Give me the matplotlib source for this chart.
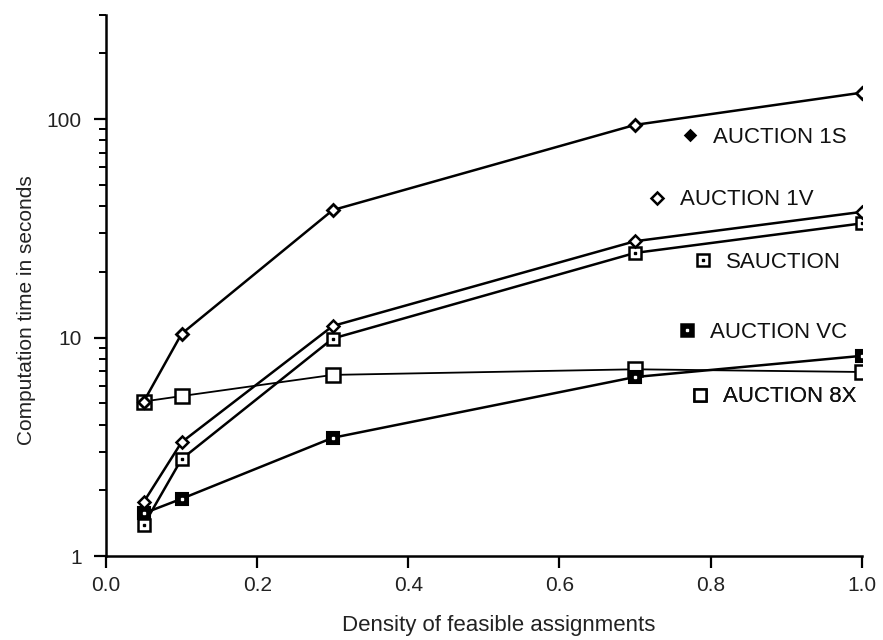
import numpy as np
import matplotlib
matplotlib.use('Agg')
import matplotlib.pyplot as plt
from matplotlib.lines import Line2D
from matplotlib.legend_handler import HandlerTuple
from matplotlib.ticker import LogLocator, FixedLocator, NullFormatter

plt.rcParams['font.family'] = ['Liberation Sans', 'DejaVu Sans']

# density of feasible assignments
density = [0.05, 0.1, 0.3, 0.7, 1.0]

# computation time in seconds
auction_1s = [5.1, 10.4, 38.3, 94, 132]
auction_1v = [1.77, 3.32, 11.3, 27.6, 37.6]
sauction = [1.39, 2.78, 9.9, 24.4, 33.3]
auction_vc = [1.57, 1.83, 3.48, 6.6, 8.25]
auction_8x = [5.1, 5.4, 6.75, 7.16, 6.96]

xticks = [0.0, 0.2, 0.4, 0.6, 0.8, 1.0]
xticklabels = ['0.0', '0.2', '0.4', '0.6', '0.8', '1.0']
yticks = [1, 10, 100]
yticklabels = ['1', '10', '100']

fig = plt.figure(figsize=(8.83, 6.4), dpi=100)
ax = fig.add_axes([0.120, 0.131, 0.856, 0.846])

lw = 1.8
ax.plot(density, auction_8x, color='black', lw=1.3, marker='s', ms=10.5,
        mfc='white', mec='black', mew=1.8, zorder=2)
ax.plot(density, auction_vc, color='black', lw=lw, marker='s', ms=9,
        mfc='black', mec='black', mew=1.5, zorder=3)
ax.plot(density, auction_vc, ls='none', marker='s', ms=1.5,
        mfc='white', mec='white', zorder=3)
ax.plot(density, sauction, color='black', lw=lw, marker='s', ms=9,
        mfc='white', mec='black', mew=1.8, zorder=4)
ax.plot(density, sauction, ls='none', marker='s', ms=1.5,
        mfc='black', mec='black', zorder=4)
ax.plot(density, auction_1v, color='black', lw=lw, marker='D', ms=6.5,
        mfc='white', mec='black', mew=1.8, zorder=5)
ax.plot(density, auction_1s, color='black', lw=lw, marker='D', ms=6.5,
        mfc='white', mec='black', mew=2.0, zorder=5)

ax.set_yscale('log')
ax.set_xlim(0, 1.0)
ax.set_ylim(1, 300)

ax.xaxis.set_major_locator(FixedLocator(xticks))
ax.set_xticklabels(xticklabels)
ax.yaxis.set_major_locator(FixedLocator(yticks))
ax.set_yticklabels(yticklabels)
ax.yaxis.set_minor_locator(LogLocator(base=10, subs=np.arange(2, 10)))
ax.yaxis.set_minor_formatter(NullFormatter())

ax.tick_params(axis='both', which='major', direction='out', length=8.5,
               width=1.6, labelsize=15, colors='black')
ax.tick_params(axis='x', which='major', pad=6)
ax.tick_params(axis='y', which='major', pad=9)
ax.tick_params(axis='y', which='minor', direction='out', length=5, width=1.4)
for lab in ax.get_xticklabels() + ax.get_yticklabels():
    lab.set_color('#222222')

for side in ['top', 'right']:
    ax.spines[side].set_visible(False)
for side in ['left', 'bottom']:
    ax.spines[side].set_linewidth(1.8)

ax.set_xlabel('Density of feasible assignments', fontsize=16, color='#222222')
ax.xaxis.set_label_coords(0.52, -0.108)
ax.set_ylabel('Computation time in seconds', fontsize=15, color='#222222')
ax.yaxis.set_label_coords(-0.092, 0.455)

# legend entries placed one by one next to the curves
def key(marker, ms, face, mew=1.8):
    return Line2D([], [], ls='none', marker=marker, ms=ms, mfc=face,
                  mec='black', mew=mew)

dot_black = Line2D([], [], ls='none', marker='s', ms=1.5, mfc='black', mec='black')
dot_white = Line2D([], [], ls='none', marker='s', ms=1.5, mfc='white', mec='white')

entries = [
    (key('D', 5.5, 'black'), 'AUCTION 1S', (0.761, 0.774)),
    (key('D', 6.5, 'white'), 'AUCTION 1V', (0.717, 0.658)),
    ((key('s', 8, 'white'), dot_black), 'SAUCTION', (0.778, 0.543)),
    ((key('s', 8, 'black'), dot_white), 'AUCTION VC', (0.757, 0.414)),
    (key('s', 9, 'white'), 'AUCTION 8X', (0.774, 0.294)),
]

for handle, label, pos in entries:
    leg = ax.legend([handle], [label], loc='center left', bbox_to_anchor=pos,
                    frameon=False, fontsize=16, handlelength=0.8,
                    handletextpad=0.63, borderpad=0, borderaxespad=0,
                    handler_map={tuple: HandlerTuple(ndivide=1)})
    for t in leg.get_texts():
        t.set_color('#111111')
    ax.add_artist(leg)

fig.savefig('out.png', dpi=100)
